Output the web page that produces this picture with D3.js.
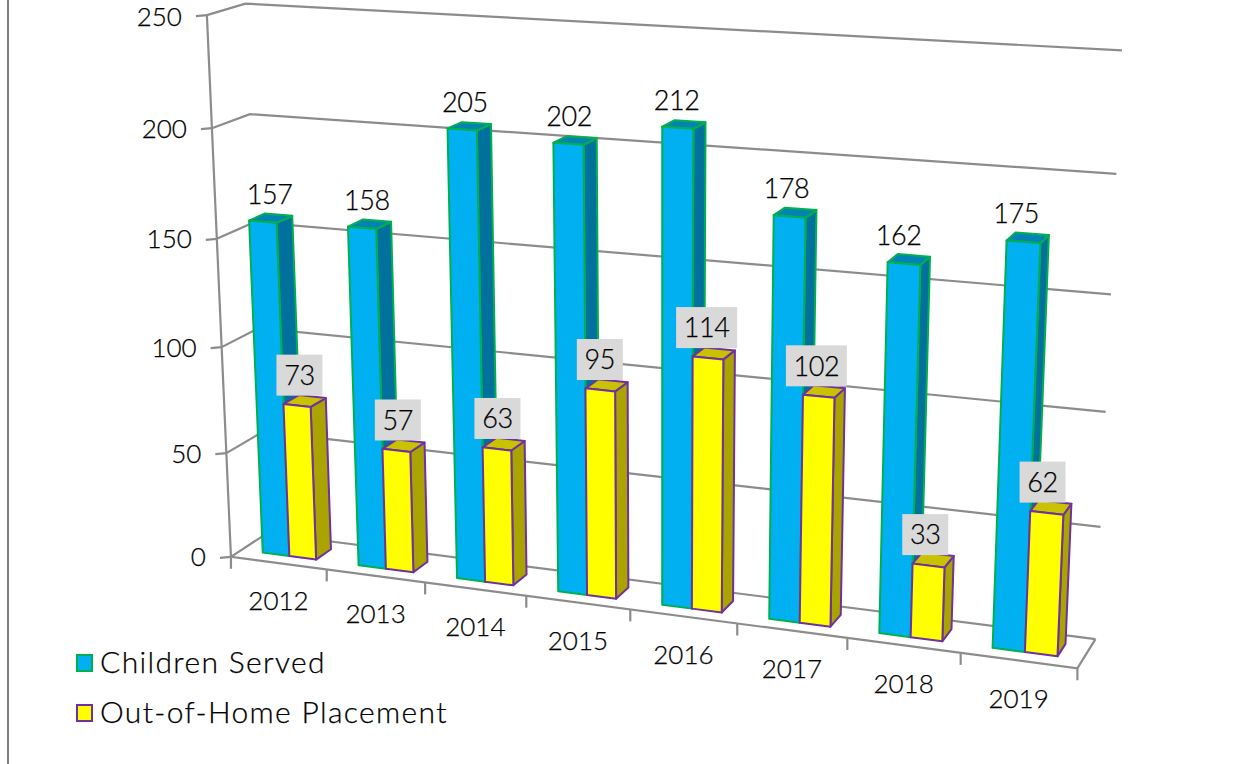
<!DOCTYPE html>
<html lang="en">
<head>
    <meta charset="UTF-8">
    <title>Children Served and Out-of-Home Placement</title>
    <script src="https://cdnjs.cloudflare.com/ajax/libs/d3/7.8.5/d3.min.js"></script>
    <style>
        html, body { margin: 0; padding: 0; background: #fff; }
        svg { display: block; }
        text { font-family: Lato, "Open Sans", sans-serif; font-weight: 300; fill: #000; stroke: #000; stroke-width: 0.25; }
    </style>
</head>
<body>
    <svg id="chart" width="1235" height="764"></svg>

    <script>
        const years = ["2012", "2013", "2014", "2015", "2016", "2017", "2018", "2019"];
        const childrenServed = [157, 158, 205, 202, 212, 178, 162, 175];
        const outOfHome = [73, 57, 63, 95, 114, 102, 33, 62];
        const valueTicks = [0, 50, 100, 150, 200, 250];
        const seriesNames = ["Children Served", "Out-of-Home Placement"];

        // where the plot box sits on screen: [x, y, z] in the unit box -> [px, py]
        const frameAnchors = [
            [0, 0, 0, 231, 557], [1, 0, 0, 1077, 668], [0, 1, 0, 207, 15],
            [0, 0, 1, 267, 533], [0, 1, 1, 245, 4], [1, 0, 1, 1095, 639],
            [1, 1, 1, 1122, 50], [0, 0.8, 0, 212, 128], [0, 0.6, 0, 217, 239],
            [0, 0.8, 1, 250, 114], [1, 0.8, 1, 1116, 174], [1, 0.4, 1, 1106, 412],
            [1, 0.2, 1, 1101, 527], [0.5, 0, 0, 631, 610], [0.125, 0, 0, 326, 569]
        ];

        function solve(A, b) {
            const n = b.length;
            const m = A.map((row, i) => [...row, b[i]]);
            for (let i = 0; i < n; i++) {
                let p = i;
                for (let r = i + 1; r < n; r++) if (Math.abs(m[r][i]) > Math.abs(m[p][i])) p = r;
                [m[i], m[p]] = [m[p], m[i]];
                for (let r = 0; r < n; r++) {
                    if (r === i) continue;
                    const f = m[r][i] / m[i][i];
                    for (let c = i; c <= n; c++) m[r][c] -= f * m[i][c];
                }
            }
            return m.map((row, i) => row[n] / row[i]);
        }

        // least squares fit of the camera, 11 unknowns
        function fitCamera(anchors) {
            const rows = [], rhs = [];
            anchors.forEach(([x, y, z, px, py]) => {
                rows.push([x, y, z, 1, 0, 0, 0, 0, -px * x, -px * y, -px * z]);
                rhs.push(px);
                rows.push([0, 0, 0, 0, x, y, z, 1, -py * x, -py * y, -py * z]);
                rhs.push(py);
            });
            const ata = d3.range(11).map(i => d3.range(11).map(j => d3.sum(rows, r => r[i] * r[j])));
            const atb = d3.range(11).map(i => d3.sum(rows, (r, k) => r[i] * rhs[k]));
            return solve(ata, atb);
        }

        const cam = fitCamera(frameAnchors);

        function project(x, y, z) {
            const w = cam[8] * x + cam[9] * y + cam[10] * z + 1;
            return [
                (cam[0] * x + cam[1] * y + cam[2] * z + cam[3]) / w,
                (cam[4] * x + cam[5] * y + cam[6] * z + cam[7]) / w
            ];
        }

        const xScale = d3.scaleBand().domain(years).range([0, 1]);
        const seriesScale = d3.scaleBand().domain(seriesNames)
            .range([xScale.bandwidth() * 0.225, xScale.bandwidth() * 0.785]);
        const yScale = d3.scaleLinear().domain([0, 250]).range([0, 1]);
        const zFront = 0.29, zBack = 0.72;

        const svg = d3.select("#chart");
        const line = d3.line();
        const polygon = pts => line(pts) + "Z";

        // page border on the left
        svg.append("line").attr("x1", 8).attr("x2", 8).attr("y1", 0).attr("y2", 764)
            .attr("stroke", "#7f7f7f").attr("stroke-width", 2);

        const grid = svg.append("g").attr("fill", "none").attr("stroke", "#8c8c8c").attr("stroke-width", 2.2);

        valueTicks.forEach(v => {
            const y = yScale(v);
            grid.append("path").attr("d", line([
                project(0, y, 0), project(0, y, 1), project(1, y, 1)
            ]));
            const p = project(0, y, 0);
            grid.append("path").attr("d", line([p, [p[0] - 11, p[1] + 1]]));
            // top label would clip otherwise
            svg.append("text").attr("x", p[0] - 25).attr("y", Math.max(p[1] + 9.5, 26))
                .attr("text-anchor", "end").attr("font-size", 26).text(v);
        });

        grid.append("path").attr("d", line([project(0, 1, 0), project(0, 0, 0), project(1, 0, 0), project(1, 0, 1)]));

        d3.range(years.length + 1).forEach(i => {
            const p = project(i / years.length, 0, 0);
            grid.append("path").attr("d", line([p, [p[0], p[1] + 12]]));
        });

        years.forEach(year => {
            const p = project(xScale(year) + xScale.bandwidth() / 2, 0, 0);
            svg.append("text").attr("x", p[0]).attr("y", p[1] + 38).attr("dy", "0.36em")
                .attr("text-anchor", "middle").attr("font-size", 26).text(year);
        });

        const styles = [
            { front: "#00b0f0", side: "#00709c", top: "#0083b3", stroke: "#00b050", values: childrenServed },
            { front: "#ffff00", side: "#aaa400", top: "#c9c200", stroke: "#7030a0", values: outOfHome }
        ];

        function drawBar(year, name, value, s) {
            const x0 = xScale(year) + seriesScale(name);
            const x1 = x0 + seriesScale.bandwidth();
            const y = yScale(value);
            const g = svg.append("g").attr("stroke", s.stroke).attr("stroke-width", 2).attr("stroke-linejoin", "round");
            g.append("path").attr("fill", s.side).attr("d", polygon([
                project(x1, 0, zFront), project(x1, 0, zBack), project(x1, y, zBack), project(x1, y, zFront)
            ]));
            g.append("path").attr("fill", s.top).attr("d", polygon([
                project(x0, y, zFront), project(x1, y, zFront), project(x1, y, zBack), project(x0, y, zBack)
            ]));
            g.append("path").attr("fill", s.front).attr("d", polygon([
                project(x0, 0, zFront), project(x1, 0, zFront), project(x1, y, zFront), project(x0, y, zFront)
            ]));
        }

        years.forEach((year, i) => {
            seriesNames.forEach((name, k) => drawBar(year, name, styles[k].values[i], styles[k]));
        });

        // labels go over all the bars, x drifts left of the bar going right
        const labelDrift = [d3.scaleLinear().domain([0, 1]).range([7.5, -8.5]),
                            d3.scaleLinear().domain([0, 1]).range([3, -4.5])];
        const labelLift = [26, 28];

        years.forEach((year, i) => {
            seriesNames.forEach((name, k) => {
                const value = styles[k].values[i];
                const xMid = xScale(year) + seriesScale(name) + seriesScale.bandwidth() / 2;
                const cx = project(xMid, yScale(value), zFront)[0] + labelDrift[k](xMid);
                const cy = project(xMid, yScale(value), 0.4)[1] - labelLift[k];
                if (k === 1) {
                    const bw = String(value).length === 3 ? 61 : 46;
                    svg.append("rect").attr("x", cx - bw / 2).attr("y", cy - 20.5)
                        .attr("width", bw).attr("height", 41).attr("fill", "#d9d9d9");
                }
                svg.append("text").attr("x", cx).attr("y", cy).attr("dy", "0.36em")
                    .attr("text-anchor", "middle").attr("font-size", 27).attr("letter-spacing", -0.4).text(value);
            });
        });

        // legend
        const legend = svg.append("g");
        seriesNames.forEach((name, k) => {
            const cy = 663 + k * 50;
            legend.append("rect").attr("x", 77).attr("y", cy - 8).attr("width", 15).attr("height", 16)
                .attr("fill", styles[k].front).attr("stroke", styles[k].stroke).attr("stroke-width", 2);
            legend.append("text").attr("x", 100).attr("y", cy - 1).attr("dy", "0.36em")
                .attr("font-size", 30).attr("letter-spacing", 1.35).text(name);
        });
    </script>
</body>
</html>
